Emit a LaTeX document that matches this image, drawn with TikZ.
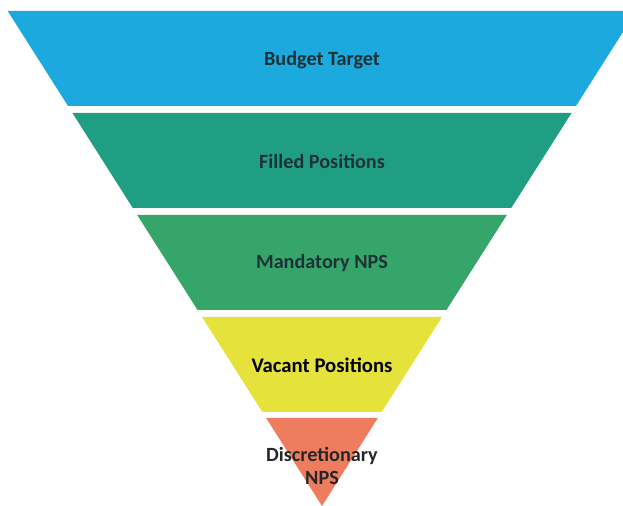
\documentclass[tikz,border=0pt]{standalone}
\usepackage{fontspec}
\setmainfont{Carlito}

\definecolor{budgetblue}{HTML}{1CA9DD}
\definecolor{filledteal}{HTML}{1F9E83}
\definecolor{mandgreen}{HTML}{36A56A}
\definecolor{vacyellow}{HTML}{E6E23C}
\definecolor{discorange}{HTML}{EE7D60}
\definecolor{labeldark}{HTML}{1E3236}

\tikzset{
  band label/.style={font=\bfseries\fontsize{11.5}{13}\selectfont, text=labeldark, align=center, inner sep=1pt},
}

\begin{document}
\begin{tikzpicture}[x=0.02cm,y=-0.02cm]
                \useasboundingbox (0,0) rectangle (623,506);
                \clip (0,0) rectangle (623,506);

                % bands of the inverted pyramid, apex at (322,506)
                \foreach \ya/\yb/\col in {11/106/budgetblue,113/208/filledteal,215/310/mandgreen,317/412/vacyellow,418/506/discorange} {
                    \pgfmathsetmacro\wa{0.635*(506-\ya)}
                    \pgfmathsetmacro\wb{0.635*(506-\yb)}
                    \fill[\col] (322-\wa,\ya) -- (322+\wa,\ya) -- (322+\wb,\yb) -- (322-\wb,\yb) -- cycle;
                }

                \node[band label] (budget) at (322,60) {Budget Target};
                \node[band label] (filled) at (322,161) {Filled Positions};
                \node[band label] (mandatory) at (322,263) {Mandatory NPS};
                \node[band label, font=\bfseries\fontsize{11.8}{14}\selectfont, text=black] (vacant) at (322,365) {Vacant Positions};
                \node[band label, text=black!85] (discretionary) at (322,466) {Discretionary\\NPS};
            \end{tikzpicture}
\end{document}
